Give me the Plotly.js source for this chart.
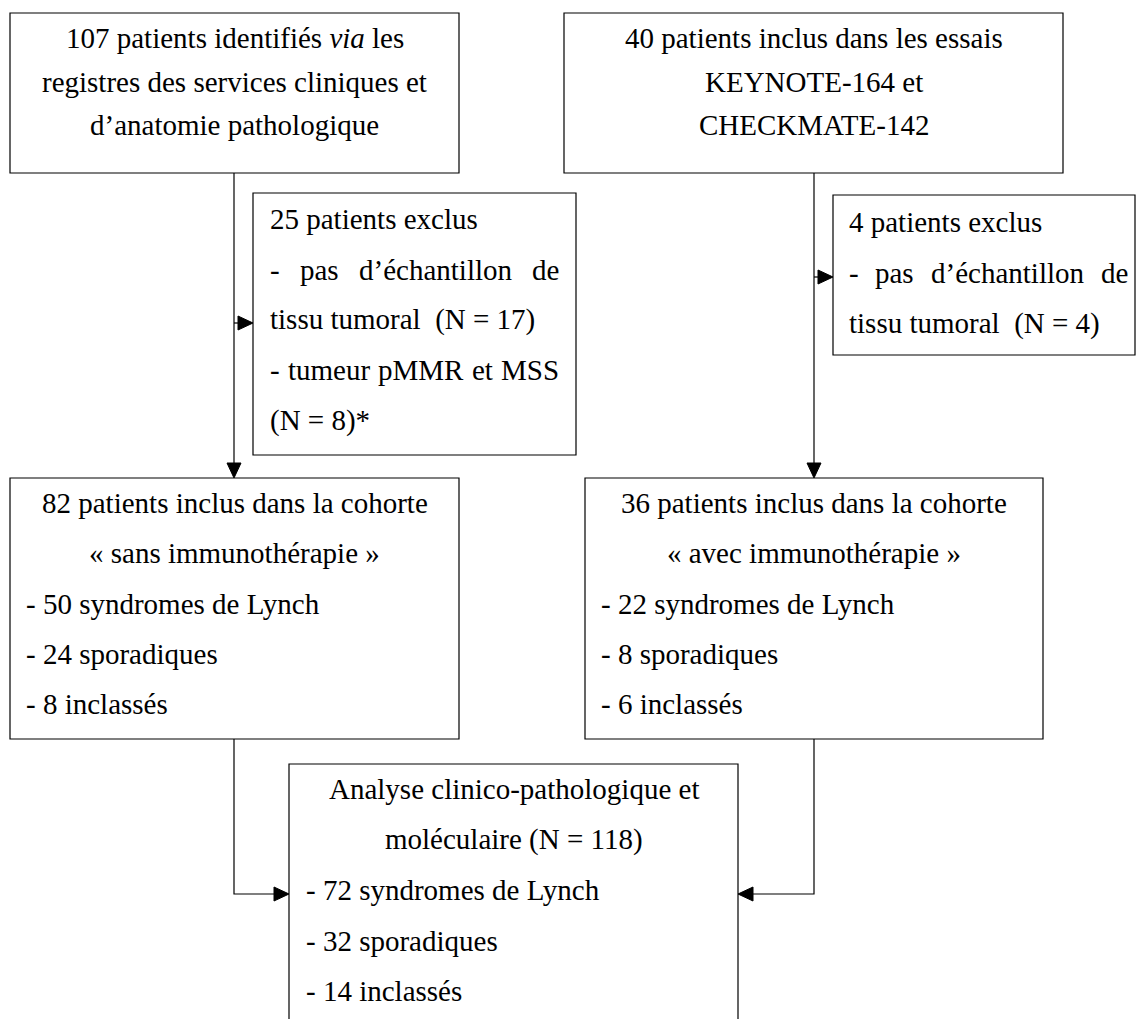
<!DOCTYPE html>
<html>
<head>
<meta charset="utf-8">
<script src="https://cdn.plot.ly/plotly-3.0.1.min.js"></script>
<style>
  html, body { margin: 0; padding: 0; background: #fff; }
  #chart { width: 1136px; height: 1019px; }
</style>
</head>
<body>
<div id="chart"></div>
<script>
// ---------- content (text of each box) ----------
const identifiedLines = ["107 patients identifiés <i>via</i> les", "registres des services cliniques et", "d’anatomie pathologique"];
const trialLines = ["40 patients inclus dans les essais", "KEYNOTE-164 et", "CHECKMATE-142"];
const excludedLeftLines = ["25 patients exclus", "- pas d’échantillon de", "tissu tumoral\u00a0\u00a0(N = 17)", "- tumeur pMMR et MSS", "(N = 8)*"];
const excludedRightLines = ["4 patients exclus", "- pas d’échantillon de", "tissu tumoral\u00a0\u00a0(N = 4)"];
const withoutImmunoLines = ["82 patients inclus dans la cohorte", "« sans immunothérapie »", "- 50 syndromes de Lynch", "- 24 sporadiques", "- 8 inclassés"];
const withImmunoLines = ["36 patients inclus dans la cohorte", "« avec immunothérapie »", "- 22 syndromes de Lynch", "- 8 sporadiques", "- 6 inclassés"];
const analysisLines = ["Analyse clinico-pathologique et", "moléculaire (N = 118)", "- 72 syndromes de Lynch", "- 32 sporadiques", "- 14 inclassés"];

// ---------- layout (pixel geometry, style) ----------
const FONT_FAMILY = 'Liberation Serif, Times New Roman, serif';
const FONT_SIZE = 29;
const BASE_TO_MID = 0.3375 * FONT_SIZE;

const boxes = [
  {lines: identifiedLines,    align: ['c','c','c'],         x0: 10,  x1: 459,  y0: 13,  y1: 173,  base: 47.5, step: 43.8, pad: 16},
  {lines: trialLines,         align: ['c','c','c'],         x0: 564, x1: 1063, y0: 13,  y1: 173,  base: 47.5, step: 43.8, pad: 16},
  {lines: excludedLeftLines,  align: ['l','j','l','j','l'], x0: 253, x1: 576,  y0: 193, y1: 455,  base: 229,  step: 50.3, pad: 17, jRight: 559},
  {lines: excludedRightLines, align: ['l','j','l'],         x0: 833, x1: 1135, y0: 195, y1: 355,  base: 231.7,step: 50.7, pad: 16, jRight: 1128},
  {lines: withoutImmunoLines, align: ['c','c','l','l','l'], x0: 10,  x1: 459,  y0: 478, y1: 739,  base: 513,  step: 50.2, pad: 16},
  {lines: withImmunoLines,    align: ['c','c','l','l','l'], x0: 585, x1: 1043, y0: 478, y1: 739,  base: 513,  step: 50.2, pad: 16},
  {lines: analysisLines,      align: ['c','c','l','l','l'], x0: 289, x1: 738,  y0: 764, y1: 1040, base: 799,  step: 50.5, pad: 17}
];

const connectors = [
  {pts: [[234,173],[234,478]]},
  {pts: [[234,323],[253,323]]},
  {pts: [[814,173],[814,478]]},
  {pts: [[814,277],[833,277]]},
  {pts: [[234,739],[234,894],[289,894]]},
  {pts: [[814,739],[814,894],[738,894]]}
];

const LINE_COLOR = '#000';
const HEAD_LEN = 15, HEAD_HALF = 7;

// ---------- build ----------
const canvas = document.createElement('canvas');
const ctx = canvas.getContext('2d');
ctx.font = FONT_SIZE + 'px "Liberation Serif", "Times New Roman", serif';
function textWidth(s) { return ctx.measureText(s.replace(/<[^>]+>/g, '')).width; }

const shapes = [];
const annotations = [];
const font = {family: FONT_FAMILY, size: FONT_SIZE, color: '#000'};

function addText(text, x, y, xanchor) {
  annotations.push({
    text: text, x: x, y: y, xref: 'x', yref: 'y',
    xanchor: xanchor, yanchor: 'middle', showarrow: false,
    font: font, borderpad: 0, borderwidth: 0
  });
}

boxes.forEach(b => {
  shapes.push({type: 'rect', xref: 'x', yref: 'y', x0: b.x0, x1: b.x1, y0: b.y0, y1: b.y1,
               line: {color: LINE_COLOR, width: 1.2}, fillcolor: 'rgba(0,0,0,0)', layer: 'above'});
  const cx = (b.x0 + b.x1) / 2;
  const left = b.x0 + b.pad;
  b.lines.forEach((ln, i) => {
    const y = b.base + i * b.step - BASE_TO_MID;
    const a = b.align[i];
    if (a === 'c') addText(ln, cx, y, 'center');
    else if (a === 'l') addText(ln, left, y, 'left');
    else {
      const words = ln.split(' ');
      const widths = words.map(textWidth);
      const total = widths.reduce((s, w) => s + w, 0);
      const gap = (b.jRight - left - total) / (words.length - 1);
      let x = left;
      words.forEach((w, k) => { addText(w, x, y, 'left'); x += widths[k] + gap; });
    }
  });
});

connectors.forEach(c => {
  const p = c.pts;
  const n = p.length;
  const [tx, ty] = p[n - 1];
  const [px, py] = p[n - 2];
  const dx = Math.sign(tx - px), dy = Math.sign(ty - py);
  const bx = tx - dx * HEAD_LEN, by = ty - dy * HEAD_LEN;
  let d = 'M ' + p[0][0] + ',' + p[0][1];
  for (let i = 1; i < n - 1; i++) d += ' L ' + p[i][0] + ',' + p[i][1];
  d += ' L ' + bx + ',' + by;
  shapes.push({type: 'path', xref: 'x', yref: 'y', path: d, line: {color: LINE_COLOR, width: 1.2}});
  const nx = -dy, ny = dx;
  const head = 'M ' + (bx + nx * HEAD_HALF) + ',' + (by + ny * HEAD_HALF) +
               ' L ' + (bx - nx * HEAD_HALF) + ',' + (by - ny * HEAD_HALF) +
               ' L ' + tx + ',' + ty + ' Z';
  shapes.push({type: 'path', xref: 'x', yref: 'y', path: head, fillcolor: LINE_COLOR, line: {color: LINE_COLOR, width: 1}});
});

const layout = {
  width: 1136, height: 1019,
  margin: {l: 0, r: 0, t: 0, b: 0, pad: 0},
  paper_bgcolor: '#fff', plot_bgcolor: '#fff',
  showlegend: false,
  xaxis: {range: [0, 1136], visible: false, fixedrange: true},
  yaxis: {range: [1019, 0], visible: false, fixedrange: true},
  shapes: shapes,
  annotations: annotations
};

Plotly.newPlot('chart', [], layout, {displayModeBar: false, staticPlot: true});
</script>
</body>
</html>
